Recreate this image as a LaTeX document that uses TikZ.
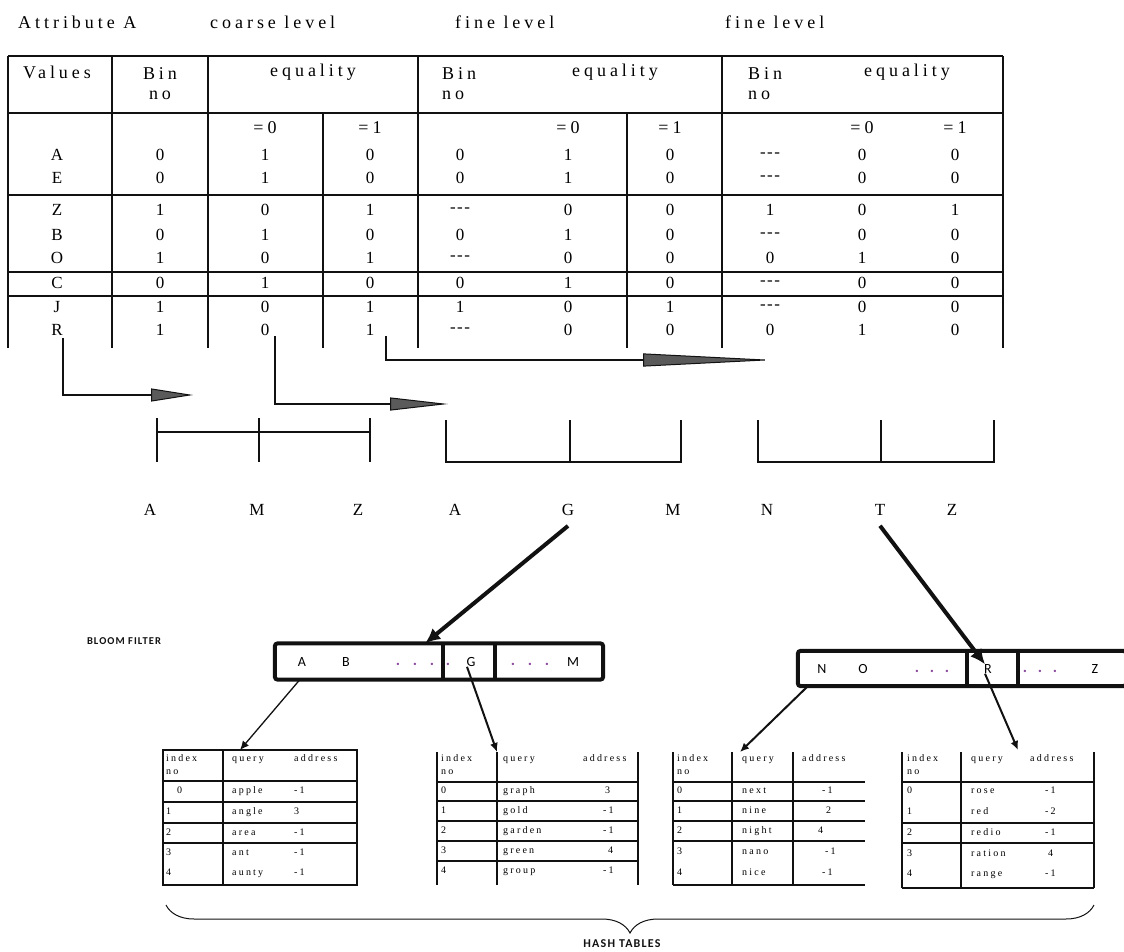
\documentclass[tikz,border=0pt]{standalone}
\usepackage{fontspec}
\setmainfont{Liberation Serif}
\newfontfamily\spacedserif[LetterSpace=22]{Liberation Serif}
\newfontfamily\hashserif[LetterSpace=22]{Liberation Serif}
\newfontfamily\filtersans{Carlito}
\newfontfamily\tagsans[LetterSpace=10]{Carlito}
\usetikzlibrary{arrows.meta,decorations.pathreplacing}
\definecolor{ink}{HTML}{111111}
\definecolor{headgray}{HTML}{5A5A5A}
\definecolor{dotpurple}{HTML}{8C4B9E}
\newcommand{\dashes}{\mbox{-}\kern1.5pt\mbox{-}\kern1.5pt\mbox{-}}

\begin{document}
\begin{tikzpicture}[
  x=1pt, y=-1pt,
  rulew/.style={draw=ink, line width=1.3pt},
  hd/.style={font=\spacedserif\fontsize{18}{20}\selectfont, inner sep=0pt},
  tcell/.style={font=\fontsize{17}{19}\selectfont, inner sep=0pt},
  spear/.style={draw=ink, line width=2pt,
                -{Triangle[length=#1, width=13pt, fill=headgray, line width=1pt]}},
  lvl/.style={font=\fontsize{17}{19}\selectfont, inner sep=0pt},
  fat/.style={draw=ink, line width=4pt, -{Latex[length=15pt, width=14pt]}},
  feed/.style={draw=ink, line width=1.3pt, -{Latex[length=9pt, width=8pt]}},
  bfcell/.style={inner sep=0pt, minimum height=36pt},
  bfbox/.style={draw=ink, line width=4pt, rounded corners=3pt},
  bftxt/.style={font=\filtersans\fontsize{14}{16}\selectfont, inner sep=0pt},
  bfdot/.style={font=\filtersans\bfseries\fontsize{16}{18}\selectfont, inner sep=0pt,
                text=dotpurple},
  htxt/.style={font=\hashserif\fontsize{10}{11}\selectfont, inner sep=0pt,
               text height=7pt, text depth=2pt, anchor=west},
  hrule/.style={draw=ink, line width=1.1pt},
  tag/.style={font=\tagsans\bfseries\fontsize{10.5}{12}\selectfont, inner sep=0pt, text=ink},
]
\useasboundingbox (0,0) rectangle (1124,952);

% --- titles over the levels ------------------------------------------------
\node[hd, anchor=west] (attr)   at (18,22)  {Attribute A};
\node[hd, anchor=west] (coarse) at (210,22) {coarse level};
\node[hd, anchor=west] (finea)  at (455,22) {fine level};
\node[hd, anchor=west] (fineb)  at (725,22) {fine level};

% --- bitmap table: rules ---------------------------------------------------
\draw[rulew] (8,56) -- (1003,56) (8,113) -- (1003,113)
             (8,195) -- (1003,195) (8,272) -- (1003,272) (8,296) -- (1003,296);
\foreach \x in {8,112,208,418,722,1003} \draw[rulew] (\x,56) -- (\x,348);
\foreach \x in {323,627} \draw[rulew] (\x,113) -- (\x,348);

% --- bitmap table: header --------------------------------------------------
\node[hd] (hval) at (57,72) {Values};
\node[hd, align=center] (hcb) at (160,84) {Bin\\no};
\node[hd] (hceq) at (313,72) {equality};
\node[hd, align=left, anchor=west] (hfb) at (442,84) {Bin\\no};
\node[hd] (hfeq) at (615,72) {equality};
\node[hd, align=left, anchor=west] (hgb) at (748,84) {Bin\\no};
\node[hd] (hgeq) at (907,72) {equality};
\foreach \t/\x [count=\k] in {=0/265,=1/370,=0/568,=1/670,=0/862,=1/955}
  \node[hd] (heq\k) at (\x,128) {\t};

% --- bitmap table: rows ----------------------------------------------------
\foreach \nm/\ry/\ca/\cb/\cc/\fa/\fb/\fc/\ga/\gb/\gc in {
    A/155/0/1/0/0/1/0/\dashes/0/0,
    E/178/0/1/0/0/1/0/\dashes/0/0,
    Z/210/1/0/1/\dashes/0/0/1/0/1,
    B/235/0/1/0/0/1/0/\dashes/0/0,
    O/258/1/0/1/\dashes/0/0/0/1/0,
    C/283/0/1/0/0/1/0/\dashes/0/0,
    J/307/1/0/1/1/0/1/\dashes/0/0,
    R/330/1/0/1/\dashes/0/0/0/1/0}{
  \node[tcell] (v\nm)  at (57,\ry)  {\nm};
  \node[tcell] (cb\nm) at (160,\ry) {\ca};
  \node[tcell] (cz\nm) at (265,\ry) {\cb};
  \node[tcell] (co\nm) at (370,\ry) {\cc};
  \node[tcell] (fb\nm) at (460,\ry) {\fa};
  \node[tcell] (fz\nm) at (568,\ry) {\fb};
  \node[tcell] (fo\nm) at (670,\ry) {\fc};
  \node[tcell] (gb\nm) at (770,\ry) {\ga};
  \node[tcell] (gz\nm) at (862,\ry) {\gb};
  \node[tcell] (go\nm) at (955,\ry) {\gc};
}

% --- the three ranges ------------------------------------------------------
\draw[rulew] (157,418) -- (157,462) (259,418) -- (259,462) (370,418) -- (370,462)
             (157,432) -- (370,432);
\draw[rulew] (446,420) -- (446,462) -- (681,462) -- (681,420) (570,420) -- (570,462);
\draw[rulew] (758,420) -- (758,462) -- (994,462) -- (994,420) (881,420) -- (881,462);
\foreach \t/\x [count=\k] in {A/150,M/257,Z/358,A/455,G/568,M/673,N/767,T/880,Z/952}
  \node[lvl] (lv\k) at (\x,510) {\t};

% --- R goes to one range of each level -------------------------------------
\coordinate (coarseTip) at (193,395);
\coordinate (fineaTip)  at (448,404);
\coordinate (finebTip)  at (775,360);
\draw[spear=42pt]  ([yshift=-2pt]vR.south east) |- (coarseTip);
\draw[spear=58pt]  ([xshift=6pt]czR.south east) |- (fineaTip);
\draw[spear=132pt] ([xshift=12pt]coR.south east) |- (finebTip);

% --- bloom filters ---------------------------------------------------------
\node[tag] (bloom) at (124,641) {BLOOM FILTER};
\node[bfcell, minimum width=168pt] (bfAB) at (359,661.5) {};
\node[bfcell, minimum width=52pt]  (bfG)  at (469,661.5) {};
\node[bfcell, minimum width=108pt] (bfM)  at (549,661.5) {};
\draw[bfbox] (bfAB.north west) rectangle (bfM.south east);
\draw[bfbox] (bfAB.north east) -- (bfAB.south east) (bfG.north east) -- (bfG.south east);
\foreach \t/\x in {A/302,B/346,G/471,M/573} \node[bftxt] (bf\t) at (\x,662) {\t};
\foreach \x in {398,415,432,448,513,530,547} \node[bfdot] (dot\x) at (\x,664) {.};

\node[bfcell, minimum width=169pt, minimum height=35pt] (bfNO) at (882.5,668.5) {};
\node[bfcell, minimum width=51pt,  minimum height=35pt] (bfR)  at (992.5,668.5) {};
\node[bfcell, minimum width=108pt, minimum height=35pt] (bfZ)  at (1072,668.5) {};
\draw[bfbox] (bfNO.north west) rectangle (bfZ.south east);
\draw[bfbox] (bfNO.north east) -- (bfNO.south east) (bfR.north east) -- (bfR.south east);
\foreach \t/\x in {N/822,O/863,R/988,Z/1095} \node[bftxt] (bf\t) at (\x,669) {\t};
\foreach \x in {917,932,947,1025,1040,1055} \node[bfdot] (dot\x) at (\x,671) {.};

\draw[fat] ([yshift=-10pt]lv5.south) -- ([xshift=-18pt]bfAB.north east);
\draw[fat] ([yshift=-10pt]lv8.south) -- ([xshift=-3pt]bfR.north);

% --- hash tables -----------------------------------------------------------
\coordinate (taIn) at (240,750);
\coordinate (tbIn) at (497,752);
\coordinate (tcIn) at (740,752);
\coordinate (tdIn) at (1018,750);
\draw[feed] ([xshift=25pt]bfAB.south west) -- (taIn);
\draw[feed, line width=2pt] ([xshift=-4pt]bfG.south) -- (tbIn);
\draw[feed, line width=2pt] ([xshift=10pt]bfNO.south west) -- (tcIn);
\draw[feed, line width=2pt] ([xshift=-3pt]bfR.south) -- (tdIn);

% table a
\draw[hrule] (163,750) rectangle (357,885) (223,750) -- (223,885);
\foreach \y in {781,802,823,843} \draw[hrule] (163,\y) -- (357,\y);
\node[htxt] (taIdx) at (166,759) {index};
\node[htxt] (taNo)  at (166,772) {no};
\node[htxt] (taQ)   at (232,759) {query};
\node[htxt] (taA)   at (294,759) {address};
\foreach \ix/\xi/\qy/\ad/\ry [count=\k] in {0/177/apple/-1/791,1/166/angle/3/812,
    2/166/area/-1/833,3/166/ant/-1/853,4/166/aunty/-1/873}{
  \node[htxt] (tai\k) at (\xi,\ry)  {\ix};
  \node[htxt] (taq\k) at (232,\ry)  {\qy};
  \node[htxt] (taa\k) at (294,\ry)  {\ad};
}

% table b
\draw[hrule] (437,752) -- (437,885) (497,752) -- (497,885) (638,752) -- (638,885);
\foreach \y in {782,801,821,841,861} \draw[hrule] (437,\y) -- (638,\y);
\node[htxt] (tbIdx) at (441,759) {index};
\node[htxt] (tbNo)  at (441,772) {no};
\node[htxt] (tbQ)   at (503,759) {query};
\node[htxt] (tbA)   at (583,759) {address};
\foreach \qy/\ad/\xa/\ry [count=\k] in {graph/3/605/791,gold/-1/603/811,
    garden/-1/603/831,green/4/608/851,group/-1/603/871}{
  \node[htxt] (tbi\k) at (441,\ry) {\the\numexpr\k-1\relax};
  \node[htxt] (tbq\k) at (503,\ry) {\qy};
  \node[htxt] (tba\k) at (\xa,\ry) {\ad};
}

% table c
\draw[hrule] (673,752) -- (673,885) (732,752) -- (732,885) (793,752) -- (793,885);
\foreach \y in {782,801,821,841,885} \draw[hrule] (673,\y) -- (865,\y);
\node[htxt] (tcIdx) at (677,759) {index};
\node[htxt] (tcNo)  at (677,772) {no};
\node[htxt] (tcQ)   at (742,759) {query};
\node[htxt] (tcA)   at (802,759) {address};
\foreach \qy/\ad/\xa/\ry [count=\k] in {next/-1/822/791,nine/2/826/811,
    night/4/818/831,nano/-1/825/852,nice/-1/822/873}{
  \node[htxt] (tci\k) at (677,\ry) {\the\numexpr\k-1\relax};
  \node[htxt] (tcq\k) at (742,\ry) {\qy};
  \node[htxt] (tca\k) at (\xa,\ry) {\ad};
}

% table d
\draw[hrule] (902,752) -- (902,888) (961,752) -- (961,888) (1094,752) -- (1094,888);
\foreach \y in {782,823,843,888} \draw[hrule] (902,\y) -- (1094,\y);
\node[htxt] (tdIdx) at (907,759) {index};
\node[htxt] (tdNo)  at (907,772) {no};
\node[htxt] (tdQ)   at (971,759) {query};
\node[htxt] (tdA)   at (1030,759) {address};
\foreach \qy/\ad/\xa/\ry [count=\k] in {rose/-1/1045/791,red/-2/1045/812,
    redio/-1/1045/833,ration/4/1048/854,range/-1/1045/874}{
  \node[htxt] (tdi\k) at (907,\ry) {\the\numexpr\k-1\relax};
  \node[htxt] (tdq\k) at (971,\ry) {\qy};
  \node[htxt] (tda\k) at (\xa,\ry) {\ad};
}

% --- brace under all tables ------------------------------------------------
\coordinate (braceL) at (166,905);
\coordinate (braceR) at (1094,905);
\draw[ink, line width=1pt, decorate, decoration={brace, mirror, amplitude=28pt}]
  (braceL) -- (braceR);
\node[tag, font=\tagsans\bfseries\fontsize{12}{14}\selectfont] (hash) at (622,944) {HASH TABLES};
\end{tikzpicture}
\end{document}
